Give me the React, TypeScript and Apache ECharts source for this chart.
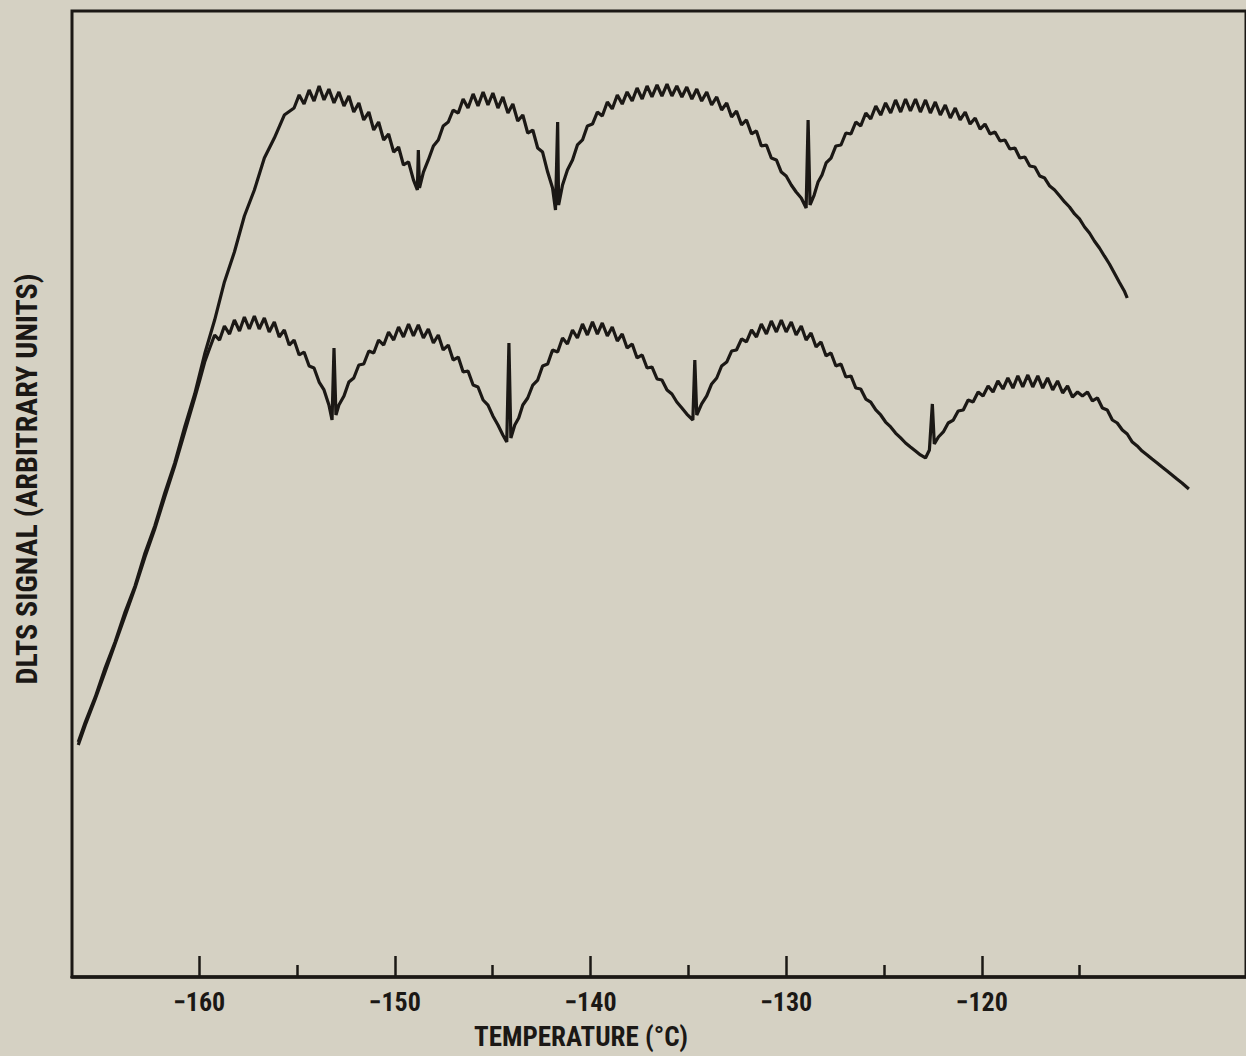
import React, { useEffect, useRef } from "react";
import * as echarts from "echarts";

// Temperature axis (°C)
const X_MIN = -166.5;
const X_MAX = -106.5;
const MAJOR_TICKS = [-160, -150, -140, -130, -120];
const MINOR_TICKS = [-155, -145, -135, -125, -115];
const Y_MIN = 0;
const Y_MAX = 100;

const X_TITLE = "TEMPERATURE (°C)";
const Y_TITLE = "DLTS SIGNAL (ARBITRARY UNITS)";

// Upper DLTS trace: [temperature °C, signal a.u.]
const UPPER_TRACE: [number, number][] = [
  [-166.18, 24.33], [-165.82, 26.4], [-165.31, 28.99], [-164.81, 31.99], [-164.3, 34.68],
  [-163.79, 37.78], [-163.28, 40.48], [-162.77, 43.89], [-162.27, 46.69], [-161.76, 50.1],
  [-161.25, 53.21], [-160.74, 56.94], [-160.23, 60.35], [-159.72, 64.49], [-159.21, 68.01],
  [-158.71, 71.95], [-158.2, 75.05], [-157.69, 78.78], [-157.18, 81.47], [-156.67, 84.78],
  [-156.16, 86.85], [-155.65, 89.23], [-155.15, 89.96], [-154.89, 91.31], [-154.64, 90.37],
  [-154.38, 91.82], [-154.13, 90.68], [-153.87, 92.24], [-153.62, 90.79], [-153.37, 91.92],
  [-153.11, 90.48], [-152.86, 91.62], [-152.6, 90.17], [-152.35, 91.2], [-152.1, 89.54],
  [-151.84, 90.48], [-151.59, 88.72], [-151.33, 89.54], [-151.08, 87.68], [-150.83, 88.51],
  [-150.57, 86.65], [-150.32, 87.27], [-150.06, 85.4], [-149.81, 85.92], [-149.56, 84.06],
  [-149.3, 84.37], [-149.05, 82.51], [-148.85, 81.47], [-148.8, 85.61], [-148.74, 81.68],
  [-148.54, 83.33], [-148.29, 84.58], [-148.03, 86.03], [-147.78, 86.65], [-147.53, 88.1],
  [-147.27, 88.51], [-147.02, 89.75], [-146.76, 89.44], [-146.51, 90.89], [-146.26, 89.96],
  [-146.0, 91.41], [-145.75, 90.17], [-145.49, 91.62], [-145.24, 90.27], [-144.99, 91.51],
  [-144.73, 89.96], [-144.48, 91.1], [-144.22, 89.44], [-143.97, 90.37], [-143.72, 88.61],
  [-143.46, 89.23], [-143.21, 87.37], [-142.95, 87.68], [-142.7, 85.82], [-142.45, 85.4],
  [-142.19, 83.33], [-141.94, 81.68], [-141.79, 79.4], [-141.68, 88.51], [-141.63, 79.92],
  [-141.43, 81.99], [-141.18, 83.54], [-140.92, 84.58], [-140.67, 86.13], [-140.41, 86.65],
  [-140.16, 88.1], [-139.9, 88.3], [-139.65, 89.54], [-139.4, 89.13], [-139.14, 90.58],
  [-138.89, 89.86], [-138.63, 91.31], [-138.38, 90.37], [-138.13, 91.62], [-137.87, 90.68],
  [-137.62, 92.03], [-137.36, 90.89], [-137.11, 92.24], [-136.86, 91.1], [-136.6, 92.34],
  [-136.35, 91.2], [-136.09, 92.44], [-135.84, 91.2], [-135.59, 92.24], [-135.33, 91.1],
  [-135.08, 92.13], [-134.82, 90.89], [-134.57, 91.92], [-134.32, 90.68], [-134.06, 91.62],
  [-133.81, 90.27], [-133.55, 91.1], [-133.3, 89.75], [-133.04, 90.48], [-132.79, 89.03],
  [-132.54, 89.65], [-132.28, 88.2], [-132.03, 88.72], [-131.77, 87.27], [-131.52, 87.58],
  [-131.27, 86.03], [-131.01, 86.13], [-130.76, 84.78], [-130.5, 84.58], [-130.25, 83.33],
  [-130.0, 82.92], [-129.74, 81.99], [-129.49, 81.26], [-129.23, 80.64], [-128.98, 79.61],
  [-128.88, 88.72], [-128.78, 79.92], [-128.57, 80.95], [-128.37, 82.3], [-128.17, 83.02],
  [-127.96, 84.27], [-127.71, 84.78], [-127.46, 86.03], [-127.2, 86.13], [-126.95, 87.37],
  [-126.69, 87.27], [-126.44, 88.51], [-126.19, 88.1], [-125.93, 89.44], [-125.68, 88.82],
  [-125.42, 90.17], [-125.17, 89.23], [-124.92, 90.48], [-124.66, 89.44], [-124.41, 90.79],
  [-124.15, 89.54], [-123.9, 90.89], [-123.65, 89.65], [-123.39, 90.89], [-123.14, 89.54],
  [-122.88, 90.79], [-122.63, 89.44], [-122.38, 90.58], [-122.12, 89.23], [-121.87, 90.27],
  [-121.61, 88.92], [-121.36, 89.96], [-121.11, 88.72], [-120.85, 89.54], [-120.6, 88.3],
  [-120.34, 88.92], [-120.09, 87.78], [-119.84, 88.3], [-119.58, 87.27], [-119.33, 87.47],
  [-119.07, 86.54], [-118.82, 86.65], [-118.57, 85.71], [-118.31, 85.82], [-118.06, 84.78],
  [-117.8, 84.89], [-117.55, 83.95], [-117.29, 83.85], [-117.04, 82.92], [-116.79, 82.71],
  [-116.53, 81.88], [-116.28, 81.47], [-116.02, 80.85], [-115.77, 80.23], [-115.52, 79.71],
  [-115.26, 78.99], [-115.01, 78.47], [-114.75, 77.64], [-114.5, 77.02], [-114.25, 76.19],
  [-113.99, 75.47], [-113.74, 74.64], [-113.48, 73.81], [-113.23, 72.88], [-112.98, 71.95],
  [-112.72, 71.02], [-112.57, 70.29],
];

// Lower DLTS trace: [temperature °C, signal a.u.]
const LOWER_TRACE: [number, number][] = [
  [-166.18, 24.02], [-165.82, 26.09], [-165.31, 28.78], [-164.81, 31.57], [-164.3, 34.47],
  [-163.79, 37.37], [-163.28, 40.27], [-162.77, 43.48], [-162.27, 46.38], [-161.76, 49.69],
  [-161.25, 52.9], [-160.74, 56.42], [-160.23, 59.94], [-159.97, 61.8], [-159.72, 63.66],
  [-159.46, 65.11], [-159.21, 66.46], [-158.96, 65.94], [-158.71, 67.39], [-158.45, 66.56],
  [-158.2, 68.01], [-157.94, 66.87], [-157.69, 68.32], [-157.44, 67.08], [-157.18, 68.43],
  [-156.93, 67.08], [-156.67, 68.22], [-156.42, 66.77], [-156.16, 67.81], [-155.91, 66.25],
  [-155.65, 66.98], [-155.4, 65.42], [-155.15, 65.94], [-154.89, 64.39], [-154.64, 64.7],
  [-154.38, 63.25], [-154.13, 63.04], [-153.87, 61.59], [-153.62, 60.77], [-153.37, 59.21],
  [-153.21, 57.66], [-153.11, 65.11], [-153.01, 58.18], [-152.86, 59.21], [-152.6, 60.15],
  [-152.35, 61.59], [-152.1, 62.01], [-151.84, 63.35], [-151.59, 63.46], [-151.33, 64.8],
  [-151.08, 64.6], [-150.83, 65.94], [-150.57, 65.42], [-150.32, 66.77], [-150.06, 65.94],
  [-149.81, 67.29], [-149.56, 66.25], [-149.3, 67.6], [-149.05, 66.36], [-148.8, 67.5],
  [-148.54, 66.15], [-148.29, 67.08], [-148.03, 65.63], [-147.78, 66.46], [-147.53, 64.91],
  [-147.27, 65.42], [-147.02, 63.87], [-146.76, 64.18], [-146.51, 62.63], [-146.26, 62.73],
  [-146.0, 61.28], [-145.75, 61.08], [-145.49, 59.73], [-145.24, 59.21], [-144.99, 58.08],
  [-144.73, 57.14], [-144.48, 56.11], [-144.28, 55.38], [-144.17, 65.63], [-144.07, 55.8],
  [-143.87, 57.14], [-143.67, 57.87], [-143.46, 59.21], [-143.21, 59.94], [-142.95, 61.28],
  [-142.7, 61.8], [-142.45, 63.25], [-142.19, 63.46], [-141.94, 64.91], [-141.68, 64.7],
  [-141.43, 66.15], [-141.18, 65.53], [-140.92, 66.98], [-140.67, 66.15], [-140.41, 67.6],
  [-140.16, 66.46], [-139.9, 67.81], [-139.65, 66.56], [-139.4, 67.7], [-139.14, 66.36],
  [-138.89, 67.29], [-138.63, 65.84], [-138.38, 66.56], [-138.13, 65.11], [-137.87, 65.53],
  [-137.62, 64.08], [-137.36, 64.39], [-137.11, 63.04], [-136.86, 63.15], [-136.6, 61.91],
  [-136.35, 61.8], [-136.09, 60.77], [-135.84, 60.35], [-135.59, 59.52], [-135.33, 58.9],
  [-135.08, 58.28], [-134.77, 57.66], [-134.67, 63.87], [-134.57, 58.18], [-134.32, 59.32],
  [-134.06, 60.15], [-133.81, 61.39], [-133.55, 62.01], [-133.3, 63.25], [-133.04, 63.66],
  [-132.79, 64.8], [-132.54, 64.91], [-132.28, 66.05], [-132.03, 65.74], [-131.77, 66.98],
  [-131.52, 66.25], [-131.27, 67.6], [-131.01, 66.56], [-130.76, 67.91], [-130.5, 66.77],
  [-130.25, 68.01], [-130.0, 66.77], [-129.74, 67.81], [-129.49, 66.46], [-129.23, 67.39],
  [-128.98, 65.94], [-128.73, 66.67], [-128.47, 65.22], [-128.22, 65.74], [-127.96, 64.29],
  [-127.71, 64.6], [-127.46, 63.25], [-127.2, 63.46], [-126.95, 62.11], [-126.69, 62.22],
  [-126.44, 60.97], [-126.19, 60.87], [-125.93, 59.83], [-125.68, 59.52], [-125.42, 58.7],
  [-125.17, 58.18], [-124.92, 57.45], [-124.66, 56.94], [-124.41, 56.31], [-124.15, 55.8],
  [-123.9, 55.28], [-123.65, 54.87], [-123.39, 54.45], [-123.14, 54.04], [-122.88, 53.73],
  [-122.68, 54.56], [-122.53, 59.32], [-122.43, 55.18], [-122.22, 55.9], [-121.97, 56.42],
  [-121.72, 57.35], [-121.46, 57.66], [-121.21, 58.59], [-120.95, 58.7], [-120.7, 59.73],
  [-120.45, 59.52], [-120.19, 60.56], [-119.94, 60.15], [-119.68, 61.18], [-119.43, 60.56],
  [-119.18, 61.7], [-118.92, 60.87], [-118.67, 62.01], [-118.41, 60.97], [-118.16, 62.22],
  [-117.91, 61.08], [-117.65, 62.32], [-117.4, 61.08], [-117.14, 62.22], [-116.89, 60.97],
  [-116.64, 62.01], [-116.38, 60.77], [-116.13, 61.7], [-115.87, 60.46], [-115.62, 61.18],
  [-115.37, 60.04], [-115.11, 60.56], [-114.86, 60.15], [-114.6, 60.56], [-114.35, 59.63],
  [-114.09, 59.94], [-113.84, 58.9], [-113.59, 58.7], [-113.33, 57.66], [-113.08, 57.35],
  [-112.82, 56.63], [-112.57, 56.21], [-112.31, 55.38], [-112.06, 54.97], [-111.81, 54.45],
  [-111.55, 54.04], [-111.3, 53.62], [-111.04, 53.21], [-110.79, 52.8], [-110.53, 52.38],
  [-110.28, 51.97], [-110.03, 51.55], [-109.77, 51.14], [-109.42, 50.52],
];

const INK = "#1b1815";
const PAPER = "#d5d1c3";
const FONT = "'Liberation Sans Narrow', 'Roboto Condensed', 'Noto Sans Condensed', 'DejaVu Sans Condensed', sans-serif";

const fmt = (v: number) => (v < 0 ? "\u2212" : "") + Math.abs(v);

export default function App() {
  const ref = useRef<HTMLDivElement>(null);
  useEffect(() => {
    document.body.style.margin = "0";
    document.body.style.background = PAPER;
    if (!ref.current) return;
    const chart = echarts.init(ref.current, undefined, { renderer: "svg" });
    chart.setOption({
      animation: false,
      backgroundColor: PAPER,
      grid: {
        left: 72,
        top: 11,
        width: 1180,
        bottom: 79,
        show: true,
        borderColor: INK,
        borderWidth: 3,
        backgroundColor: "transparent",
      },
      xAxis: [
        {
          type: "value",
          min: X_MIN,
          max: X_MAX,
          position: "bottom",
          splitLine: { show: false },
          axisLine: { show: true, lineStyle: { color: INK, width: 3.5 } },
          axisTick: {
            show: true,
            inside: true,
            length: 21,
            customValues: MAJOR_TICKS,
            lineStyle: { color: INK, width: 2.5 },
          },
          axisLabel: {
            customValues: MAJOR_TICKS,
            formatter: fmt,
            color: INK,
            fontSize: 26,
            fontWeight: "bold",
            fontFamily: FONT,
            margin: 12,
          },
        },
        {
          type: "value",
          min: X_MIN,
          max: X_MAX,
          position: "bottom",
          splitLine: { show: false },
          axisLine: { show: false },
          axisTick: {
            show: true,
            inside: true,
            length: 12,
            customValues: MINOR_TICKS,
            lineStyle: { color: INK, width: 2.5 },
          },
          axisLabel: { show: false },
        },
      ],
      yAxis: {
        type: "value",
        min: Y_MIN,
        max: Y_MAX,
        axisLine: { show: false },
        axisTick: { show: false },
        axisLabel: { show: false },
        splitLine: { show: false },
      },
      graphic: [
        {
          type: "text",
          x: 581,
          y: 1037,
          style: {
            text: X_TITLE,
            align: "center",
            verticalAlign: "middle",
            fontSize: 27,
            fontWeight: "bold",
            fontFamily: FONT,
            fill: INK,
          },
        },
        {
          type: "text",
          x: 26,
          y: 479,
          rotation: Math.PI / 2,
          style: {
            text: Y_TITLE,
            align: "center",
            verticalAlign: "middle",
            fontSize: 30,
            fontWeight: "bold",
            fontFamily: FONT,
            fill: INK,
          },
        },
      ],
      series: [
        {
          type: "line",
          name: "upper",
          data: UPPER_TRACE,
          showSymbol: false,
          lineStyle: { color: INK, width: 3.2 },
        },
        {
          type: "line",
          name: "lower",
          data: LOWER_TRACE,
          showSymbol: false,
          lineStyle: { color: INK, width: 3.2 },
        },
      ],
    });
    return () => chart.dispose();
  }, []);
  return (
    <div
      ref={ref}
      style={{ position: "absolute", left: 0, top: 0, width: 1246, height: 1056 }}
    />
  );
}
